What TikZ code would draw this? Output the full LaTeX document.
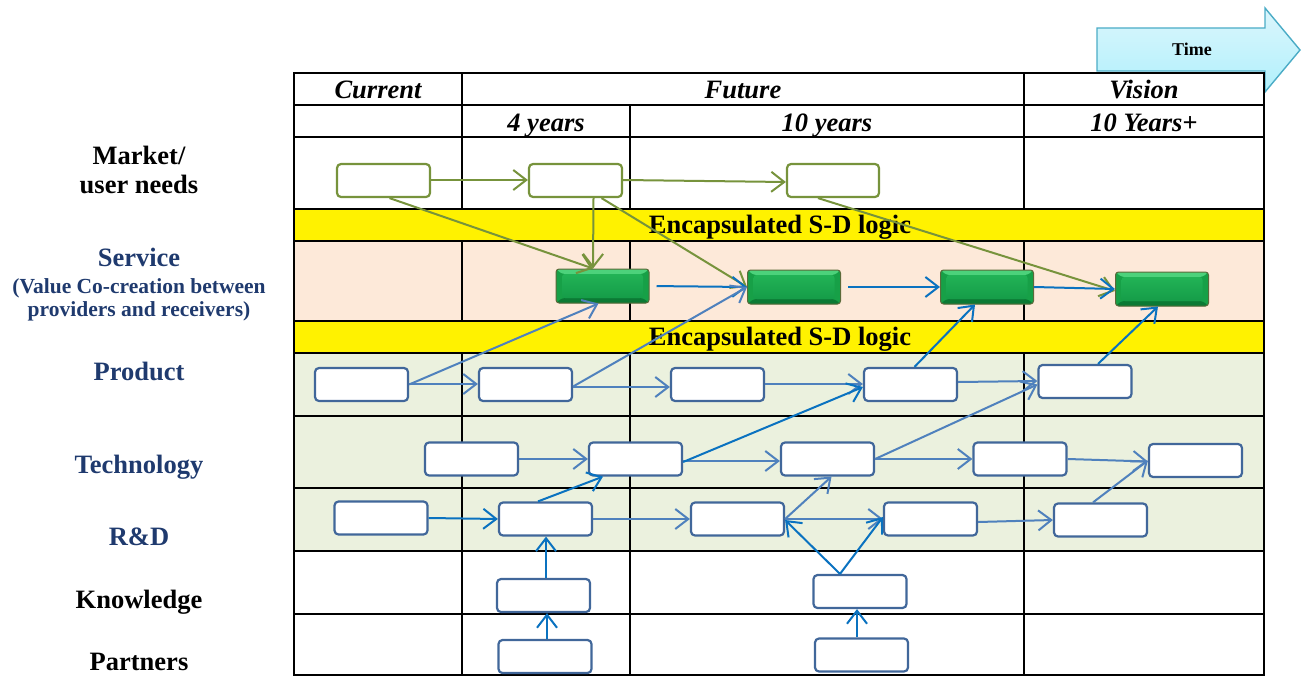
\documentclass[tikz,border=0pt]{standalone}
\usepackage{fontspec}
\setmainfont{Liberation Serif}
\usetikzlibrary{arrows.meta,calc}

\definecolor{boxblue}{HTML}{41679A}
\definecolor{mgreen}{HTML}{77933C}
\definecolor{agreen}{HTML}{77933C}
\definecolor{bluelt}{HTML}{4F81BD}
\definecolor{bluedk}{HTML}{0A72C0}
\definecolor{peach}{HTML}{FDE9D9}
\definecolor{sage}{HTML}{EBF1DE}
\definecolor{navy}{HTML}{1F3A6E}
\definecolor{timefill}{HTML}{C4EFFB}
\definecolor{timeedge}{HTML}{4BACC6}
\definecolor{gside}{HTML}{17A047}
\definecolor{gtop}{HTML}{4CD27B}
\definecolor{gbot}{HTML}{0B7A34}
\definecolor{gface}{HTML}{22B356}
\definecolor{gfacedk}{HTML}{159C48}
\definecolor{gedge}{HTML}{5B6A3A}

\begin{document}
\begin{tikzpicture}[x=1pt,y=-1pt,
  box/.style={draw=boxblue, line width=2.2pt, rounded corners=4pt, fill=white,
    minimum width=93pt, minimum height=33pt, inner sep=0pt},
  gbox/.style={box, draw=mgreen},
  sbox/.style={draw=gedge, line width=1pt, rounded corners=3pt, fill=gside,
    minimum width=93pt, minimum height=34pt, inner sep=0pt,
    path picture={
      \coordinate (nw) at (path picture bounding box.north west);
      \coordinate (ne) at (path picture bounding box.north east);
      \coordinate (sw) at (path picture bounding box.south west);
      \coordinate (se) at (path picture bounding box.south east);
      \coordinate (inw) at ([shift={(6pt,-5pt)}]nw);
      \coordinate (ine) at ([shift={(-6pt,-5pt)}]ne);
      \coordinate (isw) at ([shift={(6pt,5pt)}]sw);
      \coordinate (ise) at ([shift={(-6pt,5pt)}]se);
      \fill[gtop] (nw) -- (ne) -- (ine) -- (inw) -- cycle;
      \fill[gbot] (sw) -- (se) -- (ise) -- (isw) -- cycle;
      \fill[top color=gface, bottom color=gfacedk] (inw) rectangle (ise);
    }},
  tip/.tip={Straight Barb[length=13pt,width=20pt]},
  garr/.style={draw=agreen, line width=2pt, -tip},
  barr/.style={draw=bluelt, line width=2pt, -tip},
  bbarr/.style={draw=bluedk, line width=2pt, -tip},
  lbl/.style={font=\fontsize{26.5}{28}\selectfont\bfseries, inner sep=0pt, anchor=base},
  sub/.style={font=\fontsize{21.5}{23}\selectfont\bfseries, inner sep=0pt, anchor=base},
  hdr/.style={font=\fontsize{26.5}{28}\selectfont\bfseries\itshape, inner sep=0pt, anchor=base},
  grid/.style={line width=2pt, black},
]
\useasboundingbox (0,0) rectangle (1301,677);

% time arrow
\draw[timeedge, line width=1.4pt, top color=timefill!60!white, bottom color=timefill!90!cyan]
  (1097,28) -- (1265,28) -- (1265,8) -- (1300,50) -- (1265,92) -- (1265,71) -- (1097,71) -- cycle;
\node[font=\fontsize{18}{20}\selectfont\bfseries, inner sep=0pt, anchor=base] (time) at (1192,56) {Time};

% row backgrounds
\fill[peach] (294,241) rectangle (1264,321);
\fill[sage] (294,353) rectangle (1264,551);
\fill[yellow] (294,209) rectangle (1264,241);
\fill[yellow] (294,321) rectangle (1264,353);

% table rules
\foreach \yy in {73,105,137,209,241,321,353,416,488,551,614,675}
  \draw[grid] (293,\yy) -- (1265,\yy);
\draw[grid] (294,73) -- (294,675);
\draw[grid] (1264,73) -- (1264,675);
\foreach \xx/\ys in {462/73,630/105,1024/73} {
  \draw[grid] (\xx,\ys) -- (\xx,209);
  \draw[grid] (\xx,241) -- (\xx,321);
  \draw[grid] (\xx,353) -- (\xx,675);
}

% headers
\node[hdr] (hcur) at (378,98) {Current};
\node[hdr] (hfut) at (743,98) {Future};
\node[hdr] (hvis) at (1144,98) {Vision};
\node[hdr] (h4) at (546,131) {4 years};
\node[hdr] (h10) at (827,131) {10 years};
\node[hdr] (h10p) at (1144,131) {10 Years+};

\node[lbl] (enc1) at (780,233) {Encapsulated S-D logic};
\node[lbl] (enc2) at (780,345) {Encapsulated S-D logic};

% row labels
\node[lbl] (lmk) at (139,164) {Market/};
\node[lbl] (lmk2) at (139,193) {user needs};
\node[lbl, navy] (lsv) at (139,266) {Service};
\node[sub, navy] (lsv2) at (139,293) {(Value Co-creation between};
\node[sub, navy] (lsv3) at (139,316) {providers and receivers)};
\node[lbl, navy] (lpr) at (139,380) {Product};
\node[lbl, navy] (lte) at (139,473) {Technology};
\node[lbl, navy] (lrd) at (139,545) {R\&D};
\node[lbl] (lkn) at (139,608) {Knowledge};
\node[lbl] (lpa) at (139,670) {Partners};

% market needs
\node[gbox] (M1) at (383.5,180.5) {};
\node[gbox] (M2) at (575.5,180.5) {};
\node[gbox, minimum width=92pt] (M3) at (833,180.5) {};

% services
\node[sbox] (S1) at (602.5,286) {};
\node[sbox] (S2) at (794,287) {};
\node[sbox] (S3) at (987,287) {};
\node[sbox] (S4) at (1162,289) {};

% products
\node[box] (P1) at (361.5,384.5) {};
\node[box] (P2) at (525.5,384.5) {};
\node[box] (P3) at (717.5,384.5) {};
\node[box] (P4) at (910.5,384.5) {};
\node[box] (P5) at (1085,381.5) {};

% technologies
\node[box] (T1) at (471.5,459) {};
\node[box] (T2) at (635.5,459) {};
\node[box] (T3) at (827.5,459) {};
\node[box] (T4) at (1020,459) {};
\node[box] (T5) at (1195.5,460.5) {};

% R&D
\node[box] (R1) at (381,518) {};
\node[box] (R2) at (545.5,519) {};
\node[box] (R3) at (737.5,519) {};
\node[box] (R4) at (930.5,519) {};
\node[box] (R5) at (1100.5,520) {};

% knowledge and partners
\node[box] (K1) at (543.5,595.5) {};
\node[box] (K2) at (860,591.5) {};
\node[box] (A1) at (545,656.5) {};
\node[box] (A2) at (861.5,655) {};

% market connectors
\draw[garr] ([yshift=0.5pt]M1.east) -- ([yshift=0.5pt]M2.west);
\draw[garr] ([yshift=0.5pt]M2.east) -- ([yshift=-1.5pt]M3.west);
\draw[garr] ([xshift=6pt]M1.south) -- ([xshift=-9.5pt]S1.north);
\draw[garr] ([xshift=18pt]M2.south) -- ([xshift=-9.5pt]S1.north);
\draw[garr] ([xshift=26pt]M2.south) -- (S2.west);
\draw[garr] ([xshift=-15pt]M3.south) -- ([yshift=-2pt]S4.west);

% service connectors
\draw[bbarr, shorten <=7pt] (S1.east) -- (S2.west);
\draw[bbarr, shorten <=7pt] (S2.east) -- (S3.west);
\draw[bbarr] (S3.east) -- (S4.west);

% product connectors
\draw[barr] ([yshift=0.5pt]P1.east) -- ([yshift=0.5pt]P2.west);
\draw[barr] ([yshift=-2.5pt]P2.east) -- ([yshift=-2.5pt]P3.west);
\draw[barr] ([yshift=0.5pt]P3.east) -- ([yshift=0.5pt]P4.west);
\draw[barr] ([yshift=2.5pt]P4.east) -- ([yshift=0.5pt]P5.west);
\draw[barr] (P1.east) -- ([xshift=-4pt]S1.south);
\draw[barr] ([yshift=-2pt]P2.east) -- (S2.west);
\draw[bbarr] ([xshift=4pt]P4.north) -- ([xshift=-12pt]S3.south);
\draw[bbarr] ([xshift=13pt]P5.north) -- ([xshift=-4pt]S4.south);

% technology connectors
\draw[barr] (T1.east) -- (T2.west);
\draw[barr] ([yshift=-2pt]T2.east) -- ([yshift=-2pt]T3.west);
\draw[barr] (T3.east) -- (T4.west);
\draw[barr] (T4.east) -- ([yshift=-1pt]T5.west);
\draw[bbarr] ([yshift=-3pt]T2.east) -- ([yshift=-2.5pt]P4.west);
\draw[barr] (T3.east) -- ([yshift=-3pt]P5.west);

% R&D connectors
\draw[bbarr] (R1.east) -- (R2.west);
\draw[barr] (R2.east) -- (R3.west);
\draw[barr] (R3.east) -- (R4.west);
\draw[barr] ([yshift=-3pt]R4.east) -- (R5.west);
\draw[bbarr] ([xshift=-7.5pt]R2.north) -- ([xshift=-32.5pt]T2.south);
\draw[barr] (R3.east) -- ([xshift=4pt]T3.south);
\draw[barr] ([xshift=-7.5pt]R5.north) -- (T5.west);

% knowledge and partner connectors
\draw[bbarr] ([xshift=2.5pt]K1.north) -- ([xshift=2.5pt]K1.north |- R2.south);
\draw[bbarr] ([xshift=2pt]A1.north) -- ([xshift=2pt]A1.north |- K1.south);
\draw[bbarr] ([xshift=-20pt]K2.north) -- ([yshift=-1pt]R3.east);
\draw[bbarr] ([xshift=-20pt]K2.north) -- ([yshift=2pt]R4.west);
\draw[bbarr] ([xshift=-4.5pt]A2.north) -- ([xshift=-4.5pt]A2.north |- K2.south);
\end{tikzpicture}
\end{document}
